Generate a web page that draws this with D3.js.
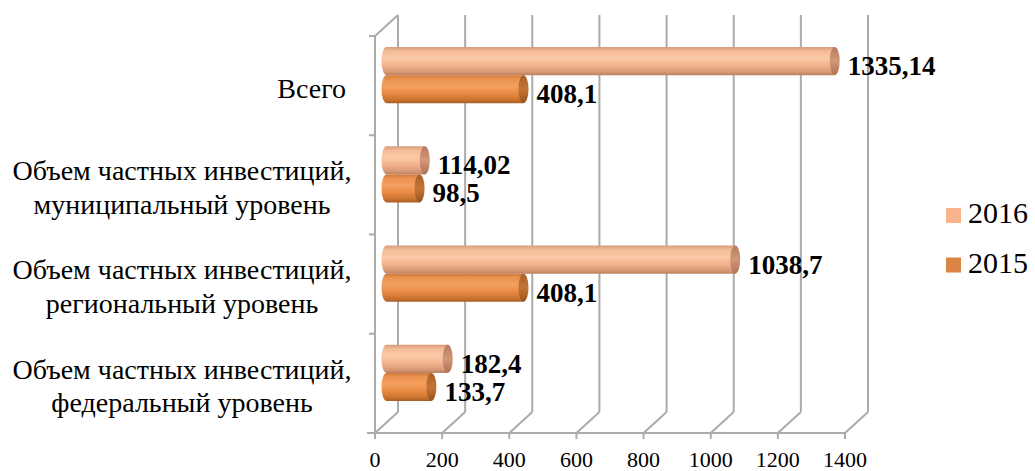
<!DOCTYPE html>
<html><head><meta charset="utf-8">
<script src="https://cdn.jsdelivr.net/npm/d3@7"></script>
<style>html,body{margin:0;padding:0;background:#fff;} svg{display:block;}</style>
</head><body>
<svg id="c" width="1035" height="471"></svg>
<script>
const categories = ["Всего", "Объем частных инвестиций,\nмуниципальный уровень", "Объем частных инвестиций,\nрегиональный уровень", "Объем частных инвестиций,\nфедеральный уровень"];
const seriesNames = ["2016", "2015"];
const values2016 = [1335.14, 114.02, 1038.7, 182.4];
const values2015 = [408.1, 98.5, 408.1, 133.7];
const labels2016 = ["1335,14", "114,02", "1038,7", "182,4"];
const labels2015 = ["408,1", "98,5", "408,1", "133,7"];
const tickValues = [0, 200, 400, 600, 800, 1000, 1200, 1400];

const svg = d3.select("#c");
const DX = 23, DY = -21;           // 3D depth offset
const x = d3.scaleLinear().domain([0, 1400]).range([375, 845]);
const y = d3.scaleBand().domain(categories).range([36, 433]).paddingInner(0).paddingOuter(0);
const yIn = d3.scaleBand().domain(seriesNames).range([0, y.bandwidth()]).paddingInner(0).paddingOuter(0.77);
const serif = "'Liberation Serif','Times New Roman',serif";

const defs = svg.append("defs");
function grad(id, stops) {
  const g = defs.append("linearGradient").attr("id", id).attr("x1", 0).attr("y1", 0).attr("x2", 0).attr("y2", 1);
  stops.forEach(s => g.append("stop").attr("offset", s[0]).attr("stop-color", s[1]));
}
grad("g2016", [[0, "#D89C7C"], [0.15, "#F4BC98"], [0.4, "#FAC9A8"], [0.65, "#F3B38D"], [0.88, "#D99A78"], [1, "#BE7F60"]]);
grad("g2015", [[0, "#CF7A3C"], [0.15, "#EC9350"], [0.4, "#F4A060"], [0.65, "#E98B44"], [0.88, "#C9732F"], [1, "#A95E25"]]);
grad("c2016", [[0, "#B87C60"], [0.5, "#D09878"], [1, "#AE7155"]]);
grad("c2015", [[0, "#A85F2B"], [0.5, "#C47535"], [1, "#97531F"]]);

const gridColor = "#ABABAB";
const grid = svg.append("g").attr("stroke", gridColor).attr("stroke-width", 2).attr("fill", "none");
tickValues.forEach(t => {
  grid.append("line").attr("x1", x(t) + DX).attr("x2", x(t) + DX).attr("y1", 36 + DY).attr("y2", 433 + DY);
  grid.append("line").attr("x1", x(t)).attr("y1", 433).attr("x2", x(t) + DX).attr("y2", 433 + DY);
});
grid.append("line").attr("x1", x(0)).attr("y1", 36).attr("x2", x(0) + DX).attr("y2", 36 + DY);
grid.append("line").attr("x1", x(0)).attr("y1", 36).attr("x2", x(0)).attr("y2", 433);
grid.append("line").attr("x1", x(0) - 8).attr("y1", 433).attr("x2", x(1400)).attr("y2", 433);
tickValues.forEach(t => {
  grid.append("line").attr("x1", x(t)).attr("x2", x(t)).attr("y1", 433).attr("y2", 439);
});
categories.forEach(c => {
  grid.append("line").attr("x1", x(0) - 6).attr("x2", x(0)).attr("y1", y(c)).attr("y2", y(c));
});

const rx = 5;
const series = [
  {name: "2016", vals: values2016, labs: labels2016, body: "url(#g2016)", cap: "url(#c2016)"},
  {name: "2015", vals: values2015, labs: labels2015, body: "url(#g2015)", cap: "url(#c2015)"}
];
const barsG = svg.append("g");
const labG = svg.append("g").attr("font-family", serif).attr("font-weight", "bold").attr("font-size", 27).attr("fill", "#000");
series.forEach(s => {
  categories.forEach((c, i) => {
    const top = y(c) + yIn(s.name) + DY / 2;
    const h = yIn.bandwidth();
    const ry = h / 2;
    const x0 = x(0) + DX / 2, x1 = x(s.vals[i]) + DX / 2;
    const p = `M${x0},${top} L${x1},${top} L${x1},${top + h} L${x0},${top + h} A${rx},${ry} 0 0 1 ${x0},${top} Z`;
    barsG.append("path").attr("d", p).attr("fill", s.body);
    barsG.append("ellipse").attr("cx", x1).attr("cy", top + ry).attr("rx", rx).attr("ry", ry).attr("fill", s.cap);
    labG.append("text").attr("x", x1 + rx + 8).attr("y", top + ry + 14).text(s.labs[i]);
  });
});

const catG = svg.append("g").attr("font-family", serif).attr("font-size", 28).attr("fill", "#000");
categories.forEach(c => {
  const lines = c.split("\n");
  const cy = y(c) + y.bandwidth() / 2 + 3;
  const lh = 33.5;
  if (lines.length === 1) {
    catG.append("text").attr("x", 346).attr("y", cy + 9).attr("text-anchor", "end").text(lines[0]);
  } else {
    lines.forEach((ln, k) => {
      catG.append("text").attr("x", 182).attr("y", cy + (k - (lines.length - 1) / 2) * lh + 9).attr("text-anchor", "middle").text(ln);
    });
  }
});

const tG = svg.append("g").attr("font-family", serif).attr("font-size", 22).attr("fill", "#000");
tickValues.forEach(t => {
  tG.append("text").attr("x", x(t)).attr("y", 467).attr("text-anchor", "middle").text(t);
});

const legColors = {"2016": "#F9B48E", "2015": "#DA8545"};
const lg = svg.append("g").attr("font-family", serif).attr("font-size", 30).attr("fill", "#000");
seriesNames.forEach((n, k) => {
  const by = 223 + k * 49.5;
  lg.append("rect").attr("x", 946).attr("y", by - 15).attr("width", 15).attr("height", 15).attr("fill", legColors[n]);
  lg.append("text").attr("x", 968).attr("y", by).text(n);
});
</script>
</body></html>
